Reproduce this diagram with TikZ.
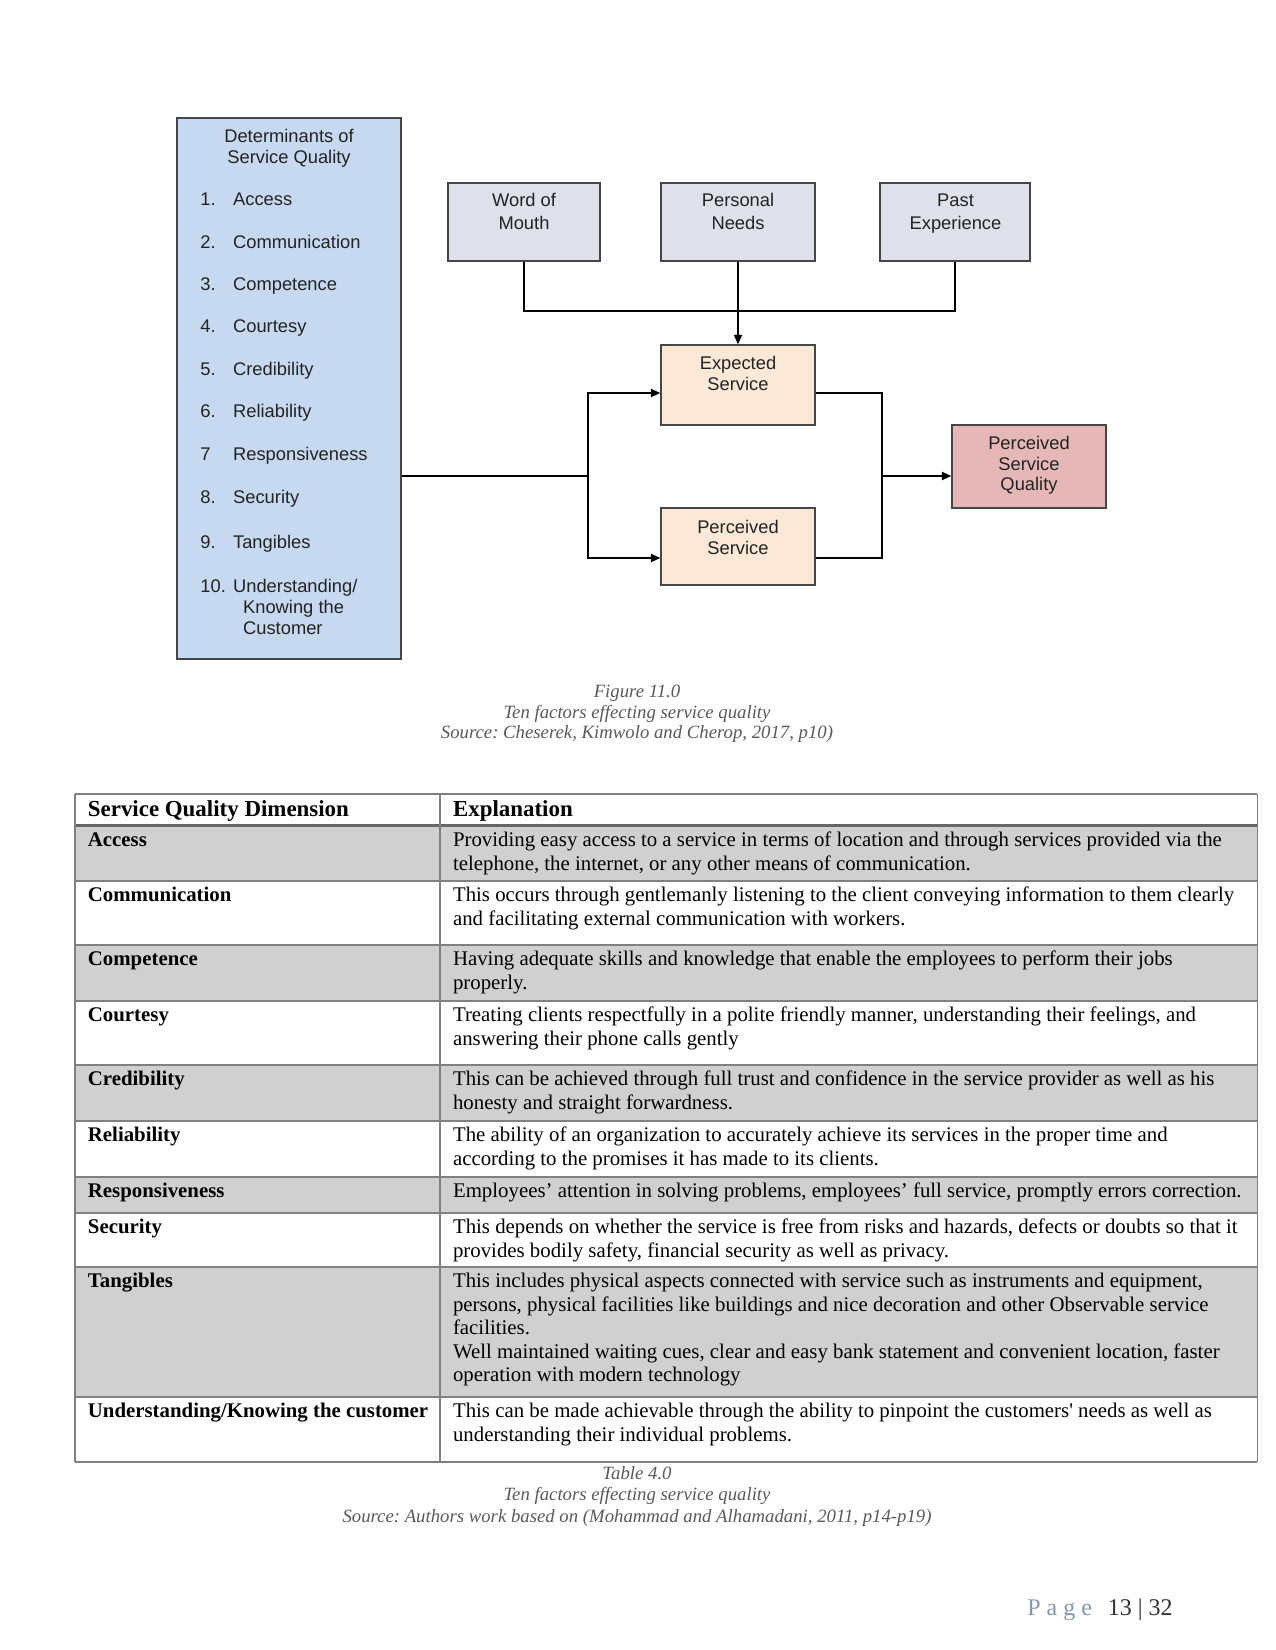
\documentclass[tikz,border=0pt]{standalone}
\usepackage{fontspec}
\setmainfont{Liberation Serif}
\newfontfamily\plainserif{Liberation Serif}
\newfontfamily\diagfont{Liberation Sans}
\usetikzlibrary{arrows.meta,calc}
\definecolor{bluefill}{RGB}{198,217,240}
\definecolor{topfill}{RGB}{224,224,234}
\definecolor{peach}{RGB}{251,232,214}
\definecolor{pinkfill}{RGB}{229,184,183}
\definecolor{boxline}{RGB}{70,70,70}
\definecolor{dtext}{RGB}{35,35,35}
\definecolor{rowgray}{RGB}{208,208,208}
\definecolor{rulegray}{RGB}{128,128,128}
\definecolor{capgray}{RGB}{89,89,89}
\definecolor{pagegray}{RGB}{132,151,176}
\definecolor{pagenum}{RGB}{50,50,50}
\frenchspacing
\begin{document}
\begin{tikzpicture}[x=0.48pt,y=-0.48pt,
  dbox/.style={draw=boxline,line width=0.8pt,inner sep=0pt},
  dlabel/.style={font=\diagfont\fontsize{8.8}{10}\selectfont,text=dtext,inner sep=0pt,anchor=base},
  dlist/.style={dlabel,anchor=base west},
  arr/.style={-{Triangle[length=4.5pt,width=4pt]},line width=0.6pt},
  conn/.style={line width=0.6pt},
  captext/.style={font=\itshape\fontsize{9}{11}\selectfont,text=capgray,inner sep=0pt,anchor=base},
  cell/.style={font=\fontsize{10}{11.28}\selectfont,inner sep=0pt,anchor=base west},
  dimcell/.style={font=\bfseries\fontsize{10}{11.28}\selectfont,inner sep=0pt,anchor=base west},
  hcell/.style={font=\bfseries\fontsize{11}{13}\selectfont,inner sep=0pt,anchor=base west},
  tline/.style={draw=rulegray,line width=0.5pt},
]
\useasboundingbox (0,0) rectangle (1275,1650);
\fill[white] (0,0) rectangle (1275,1650);

% ---------- diagram boxes ----------
\node[dbox,fill=bluefill,minimum width=107.5pt,minimum height=259.7pt] (det) at (289,388.5) {};
\node[dbox,fill=topfill,minimum width=73pt,minimum height=37.4pt] (wom) at (524,222) {};
\node[dbox,fill=topfill,minimum width=73.9pt,minimum height=37.4pt] (pn) at (738,222) {};
\node[dbox,fill=topfill,minimum width=72pt,minimum height=37.4pt] (pe) at (955,222) {};
\node[dbox,fill=peach,minimum width=73.9pt,minimum height=38.4pt] (exp) at (738,385) {};
\node[dbox,fill=peach,minimum width=73.9pt,minimum height=37pt] (per) at (738,546.5) {};
\node[dbox,fill=pinkfill,minimum width=73.9pt,minimum height=39.8pt] (psq) at (1029,466.5) {};

% ---------- diagram texts ----------
\node[dlabel] (dt1) at (289,143) {Determinants of};
\node[dlabel] (dt2) at (289,164) {Service Quality};
\node[dlist] (n1) at (200,206) {1.};   \node[dlist] (l1) at (232.7,206) {Access};
\node[dlist] (n2) at (200,249) {2.};   \node[dlist] (l2) at (232.7,249) {Communication};
\node[dlist] (n3) at (200,291) {3.};   \node[dlist] (l3) at (232.7,291) {Competence};
\node[dlist] (n4) at (200,333) {4.};   \node[dlist] (l4) at (232.7,333) {Courtesy};
\node[dlist] (n5) at (200,376) {5.};   \node[dlist] (l5) at (232.7,376) {Credibility};
\node[dlist] (n6) at (200,417.5) {6.}; \node[dlist] (l6) at (232.7,417.5) {Reliability};
\node[dlist] (n7) at (200,460) {7};    \node[dlist] (l7) at (232.7,460) {Responsiveness};
\node[dlist] (n8) at (200,503.5) {8.}; \node[dlist] (l8) at (232.7,503.5) {Security};
\node[dlist] (n9) at (200,548.5) {9.}; \node[dlist] (l9) at (232.7,548.5) {Tangibles};
\node[dlist] (n10) at (200,592) {10.}; \node[dlist] (l10) at (232.7,592) {Understanding/};
\node[dlist] (l10b) at (242.7,613.5) {Knowing the};
\node[dlist] (l10c) at (242.7,634.5) {Customer};

\node[dlabel] (womt1) at (524,207) {Word of};
\node[dlabel] (womt2) at (524,229.5) {Mouth};
\node[dlabel] (pnt1) at (738,207) {Personal};
\node[dlabel] (pnt2) at (738,229.5) {Needs};
\node[dlabel] (pet1) at (955.5,207) {Past};
\node[dlabel] (pet2) at (955.5,229.5) {Experience};
\node[dlabel] (expt1) at (738,370) {Expected};
\node[dlabel] (expt2) at (738,391) {Service};
\node[dlabel] (pert1) at (738,533) {Perceived};
\node[dlabel] (pert2) at (738,554) {Service};
\node[dlabel] (psqt1) at (1029,449) {Perceived};
\node[dlabel] (psqt2) at (1029,470) {Service};
\node[dlabel] (psqt3) at (1029,491) {Quality};

% ---------- connectors ----------
\coordinate (jn) at (735,311);
\draw[conn] (wom.south) |- (jn) -| (pe.south);
\draw[arr] (pn.south) -- (exp.north);
\coordinate (fl) at (588,476);
\draw[conn] (det.east |- fl) -- (fl);
\draw[arr] (fl) |- ($(exp.west)+(0,8)$);
\draw[arr] (fl) |- ($(per.west)+(0,11.5)$);
\coordinate (fr) at (882,476);
\draw[conn] ($(exp.east)+(0,8)$) -| (fr) |- ($(per.east)+(0,11.5)$);
\draw[arr] (fr) -- (psq.west |- fr);

% ---------- figure caption ----------
\node[captext] (fc1) at (637,697.5) {Figure 11.0};
\node[captext] (fc2) at (637,718) {Ten factors effecting service quality};
\node[captext] (fc3) at (637,738.5) {Source: Cheserek, Kimwolo and Cherop, 2017, p10)};

% ---------- table ----------
\fill[rowgray] (75,826) rectangle (1257,881);
\fill[rowgray] (75,945) rectangle (1257,1001);
\fill[rowgray] (75,1065) rectangle (1257,1121);
\fill[rowgray] (75,1177) rectangle (1257,1213);
\fill[rowgray] (75,1267) rectangle (1257,1397);
\foreach \yy in {794,881,945,1001,1065,1121,1177,1213,1267,1397,1462}
  \draw[tline] (75,\yy) -- (1257,\yy);
\draw[draw=rulegray!80!black,line width=1.1pt] (75,825.5) -- (1257,825.5);
\draw[tline] (75,794) -- (75,1462);
\draw[tline] (440,794) -- (440,1462);
\draw[tline] (1257,794) -- (1257,1462);

\node[hcell] (h1) at (87.5,816) {Service Quality Dimension};
\node[hcell] (h2) at (452.6,816) {Explanation};

\node[dimcell] (d1) at (87.5,846.5) {Access};
\node[cell] (e1) at (452.6,846.5) {\parbox[t]{420pt}{\raggedright Providing easy access to a service in terms of location and through services provided via the\\telephone, the internet, or any other means of communication.}};
\node[dimcell] (d2) at (87.5,901.5) {Communication};
\node[cell] (e2) at (452.6,901.5) {\parbox[t]{420pt}{\raggedright This occurs through gentlemanly listening to the client conveying information to them clearly\\and facilitating external communication with workers.}};
\node[dimcell] (d3) at (87.5,965.5) {Competence};
\node[cell] (e3) at (452.6,965.5) {\parbox[t]{420pt}{\raggedright Having adequate skills and knowledge that enable the employees to perform their jobs\\properly.}};
\node[dimcell] (d4) at (87.5,1021.5) {Courtesy};
\node[cell] (e4) at (452.6,1021.5) {\parbox[t]{420pt}{\raggedright Treating clients respectfully in a polite friendly manner, understanding their feelings, and\\answering their phone calls gently}};
\node[dimcell] (d5) at (87.5,1085.5) {Credibility};
\node[cell] (e5) at (452.6,1085.5) {\parbox[t]{420pt}{\raggedright This can be achieved through full trust and confidence in the service provider as well as his\\honesty and straight forwardness.}};
\node[dimcell] (d6) at (87.5,1141.5) {Reliability};
\node[cell] (e6) at (452.6,1141.5) {\parbox[t]{420pt}{\raggedright The ability of an organization to accurately achieve its services in the proper time and\\according to the promises it has made to its clients.}};
\node[dimcell] (d7) at (87.5,1197.5) {Responsiveness};
\node[cell] (e7) at (452.6,1197.5) {Employees’ attention in solving problems, employees’ full service, promptly errors correction.};
\node[dimcell] (d8) at (87.5,1233.5) {Security};
\node[cell] (e8) at (452.6,1233.5) {\parbox[t]{420pt}{\raggedright This depends on whether the service is free from risks and hazards, defects or doubts so that it\\provides bodily safety, financial security as well as privacy.}};
\node[dimcell] (d9) at (87.5,1287.5) {Tangibles};
\node[cell] (e9) at (452.6,1287.5) {\parbox[t]{420pt}{\raggedright This includes physical aspects connected with service such as instruments and equipment,\\persons, physical facilities like buildings and nice decoration and other Observable service\\facilities.\\Well maintained waiting cues, clear and easy bank statement and convenient location, faster\\operation with modern technology}};
\node[dimcell] (d10) at (87.5,1417.5) {Understanding/Knowing the customer};
\node[cell] (e10) at (452.6,1417.5) {\parbox[t]{420pt}{\raggedright This can be made achievable through the ability to pinpoint the customers{\plainserif'} needs as well as\\understanding their individual problems.}};

% ---------- table caption ----------
\node[captext] (tc1) at (637,1479) {Table 4.0};
\node[captext] (tc2) at (637,1500.5) {Ten factors effecting service quality};
\node[captext] (tc3) at (637,1522) {Source: Authors work based on (Mohammad and Alhamadani, 2011, p14-p19)};

% ---------- footer ----------
\node[font=\fontsize{11.5}{13}\selectfont,text=pagegray,inner sep=0pt,anchor=base west] (pg) at (1027,1615) {P a g e};
\node[font=\fontsize{11.5}{13}\selectfont,text=pagenum,inner sep=0pt,anchor=base east] (pgn) at (1173,1615) {13 | 32};
\end{tikzpicture}
\end{document}
